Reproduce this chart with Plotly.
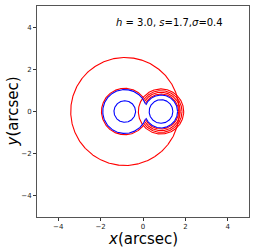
import numpy as np
import plotly.graph_objects as go

# ---- data (arcsec) ----
label_text = "<i>h</i> = 3.0, <i>s</i>=1.7,<i>σ</i>=0.4"
tick_vals = [-4, -2, 0, 2, 4]

# contour circles: centre x, radius, colour, clipping circle (cx, r) or None
curve_cx     = [-0.85, -0.86, -0.86, -0.86, 0.85, 0.85, 0.85, 0.85, 0.85, 0.85]
curve_r      = [2.56,  0.51,  1.04,  1.10,  0.56, 0.78, 0.83, 0.91, 0.99, 1.07]
curve_color  = ["red", "blue", "blue", "red", "blue", "blue", "red", "red", "red", "red"]
clip_cx      = [None,  None,  0.85,  0.85,  None, -0.86, -0.86, -0.86, -0.86, None]
clip_r       = [None,  None,  0.82,  1.07,  None, 1.04, 1.04, 1.04, 1.04, None]

fig = go.Figure()
t = np.linspace(0, 2 * np.pi, 721)
order = sorted(range(len(curve_r)), key=lambda i: curve_color[i] == "blue")
for i in order:
    cx, r, col, kx, kr = curve_cx[i], curve_r[i], curve_color[i], clip_cx[i], clip_r[i]
    xs = cx + r * np.cos(t)
    ys = r * np.sin(t)
    if kx is not None:
        inside = (xs - kx) ** 2 + ys ** 2 < kr ** 2
        xs = np.where(inside, np.nan, xs)
        ys = np.where(inside, np.nan, ys)
    fig.add_trace(go.Scatter(x=xs, y=ys, mode="lines",
                             line=dict(color=col, width=1.1),
                             connectgaps=False, hoverinfo="skip"))

axis_common = dict(range=[-5, 5], tickvals=tick_vals, ticks="outside", ticklen=3,
                   tickwidth=0.8, tickcolor="#333", showgrid=False, zeroline=False,
                   showline=True, linecolor="#555", linewidth=1, mirror=True,
                   automargin=False,
                   tickfont=dict(family="DejaVu Sans", size=7, color="#222"))
fig.update_layout(
    width=256, height=251,
    margin=dict(l=37, r=7, t=6, b=34),
    plot_bgcolor="white", paper_bgcolor="white",
    showlegend=False,
    xaxis=dict(**axis_common),
    yaxis=dict(**axis_common),
    annotations=[
        dict(text=label_text, x=1.26, y=4.2, xref="x", yref="y", showarrow=False,
             xanchor="center", yanchor="middle",
             font=dict(family="DejaVu Sans", size=10, color="black")),
        dict(text="<i>x</i>(arcsec)", x=0.5, y=0, xref="paper", yref="paper",
             xanchor="center", yanchor="top", yshift=-11, showarrow=False,
             font=dict(family="DejaVu Sans", size=15, color="black")),
        dict(text="<i>y</i>(arcsec)", x=0, y=0.5, xref="paper", yref="paper",
             xanchor="right", yanchor="middle", xshift=-14, textangle=-90,
             showarrow=False,
             font=dict(family="DejaVu Sans", size=15, color="black")),
    ],
)
fig.write_html("out.html", config={"displayModeBar": False},
               post_script="document.body.style.margin='0';")
